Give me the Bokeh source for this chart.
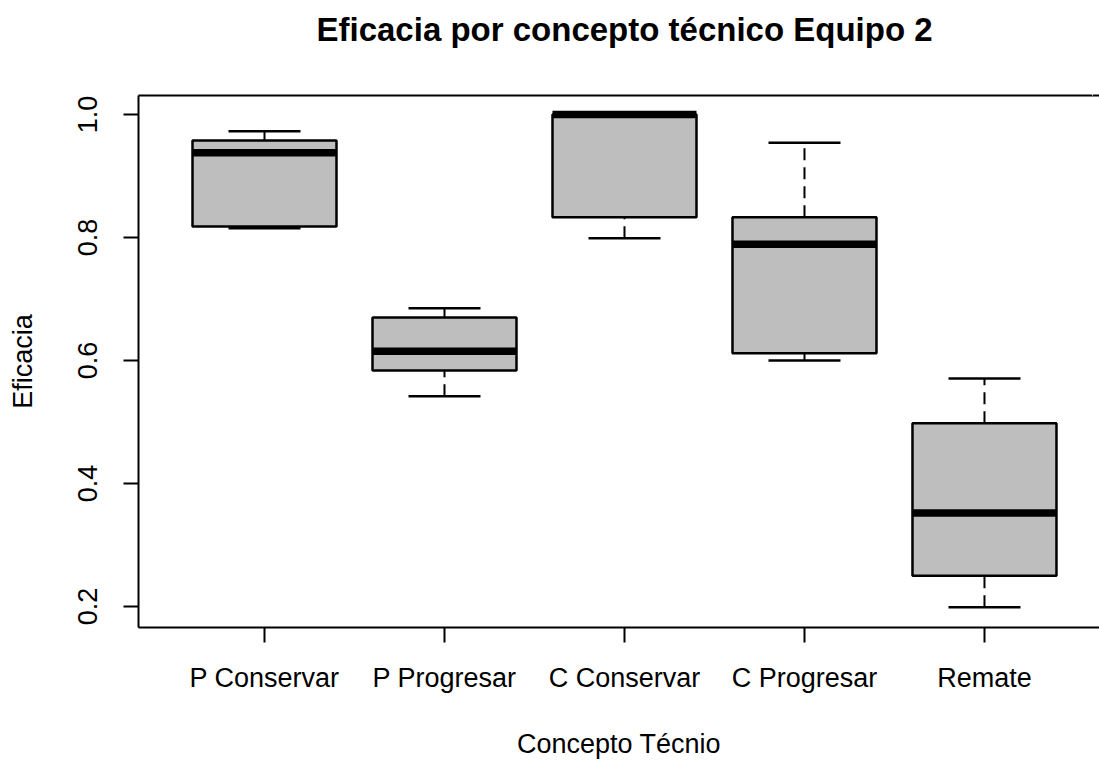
from bokeh.plotting import figure
from bokeh.models import Range1d, FixedTicker, LinearAxis, ColumnDataSource
from bokeh.embed import file_html
from bokeh.resources import INLINE

# ---- data ----
categories = ["P Conservar", "P Progresar", "C Conservar", "C Progresar", "Remate"]
lower_whisker = [0.815, 0.542, 0.799, 0.600, 0.199]
q1 = [0.818, 0.584, 0.833, 0.612, 0.250]
median = [0.938, 0.615, 1.000, 0.789, 0.352]
q3 = [0.958, 0.670, 1.000, 0.833, 0.498]
upper_whisker = [0.973, 0.685, 1.000, 0.954, 0.571]

y_ticks = [0.2, 0.4, 0.6, 0.8, 1.0]
y_tick_labels = ["0.2", "0.4", "0.6", "0.8", "1.0"]

title_text = "Eficacia por concepto técnico Equipo 2"
x_title = "Concepto Técnio"
y_title = "Eficacia"

# ---- layout / style ----
FONT = "Liberation Sans"
BOX_W = 0.8
CAP_W = 0.4
FILL = "#BEBEBE"
X_START, X_END = 0.3, 5.639

positions = list(range(1, len(categories) + 1))
src = ColumnDataSource(dict(
    x=positions, lw=lower_whisker, q1=q1, med=median, q3=q3, uw=upper_whisker,
    bl=[x - BOX_W / 2 for x in positions], br=[x + BOX_W / 2 for x in positions],
    cl=[x - CAP_W / 2 for x in positions], cr=[x + CAP_W / 2 for x in positions],
))

p = figure(width=1099, height=761, output_backend="svg", toolbar_location=None,
           x_range=Range1d(X_START, X_END), y_range=Range1d(0.166, 1.031),
           min_border_left=138, min_border_right=0, min_border_top=95,
           min_border_bottom=134, background_fill_color="white",
           border_fill_color="white", outline_line_color=None)

# whiskers (dashed), caps
p.segment(x0="x", y0="q3", x1="x", y1="uw", source=src, line_color="black",
          line_width=2, line_dash="12 7")
p.segment(x0="x", y0="lw", x1="x", y1="q1", source=src, line_color="black",
          line_width=2, line_dash="12 7")
p.segment(x0="cl", y0="uw", x1="cr", y1="uw", source=src, line_color="black", line_width=2.5)
p.segment(x0="cl", y0="lw", x1="cr", y1="lw", source=src, line_color="black", line_width=2.5)
# boxes
p.vbar(x="x", width=BOX_W, bottom="q1", top="q3", source=src, fill_color=FILL,
       line_color="black", line_width=2.5)
# medians
p.segment(x0="bl", y0="med", x1="br", y1="med", source=src, line_color="black",
          line_width=7.5, line_cap="butt")

p.xgrid.visible = False
p.ygrid.visible = False

# x axis
xa = p.xaxis[0]
xa.ticker = FixedTicker(ticks=positions)
xa.major_label_overrides = {pos: cat for pos, cat in zip(positions, categories)}
xa.axis_label = x_title
# y axis
ya = p.yaxis[0]
ya.ticker = FixedTicker(ticks=y_ticks)
ya.major_label_overrides = {t: l for t, l in zip(y_ticks, y_tick_labels)}
ya.major_label_orientation = "parallel"
ya.axis_label = y_title

for ax in (xa, ya):
    ax.axis_line_width = 2
    ax.axis_line_color = "black"
    ax.major_tick_line_width = 2
    ax.major_tick_line_color = "black"
    ax.major_tick_out = 15
    ax.major_tick_in = 0
    ax.minor_tick_line_color = None
    ax.major_label_text_font = FONT
    ax.major_label_text_font_size = "27px"
    ax.major_label_text_color = "black"
    ax.axis_label_text_font = FONT
    ax.axis_label_text_font_size = "27px"
    ax.axis_label_text_font_style = "normal"
    ax.axis_label_text_color = "black"

xa.major_label_standoff = 20
xa.axis_label_standoff = 33
ya.major_label_standoff = 26
ya.axis_label_standoff = 38

# top frame line; one invisible (white) tick in the empty top-right corner
# reserves the space between the title and the frame
spacer_tick = X_END - 0.04
top = LinearAxis(ticker=FixedTicker(ticks=[spacer_tick]),
                 major_label_overrides={spacer_tick: ""},
                 major_label_text_font_size="1px", major_label_standoff=0,
                 axis_line_width=2, axis_line_color="black", major_tick_out=45,
                 major_tick_in=0, major_tick_line_color="white", major_tick_line_width=1,
                 minor_tick_out=0, minor_tick_in=0, minor_tick_line_color=None)
p.add_layout(top, "above")

p.title.text = title_text
p.title.text_font = FONT
p.title.text_font_size = "33px"
p.title.text_font_style = "bold"
p.title.text_color = "black"
p.title.align = "left"
p.title.offset = 178
p.title.standoff = 6

open("out.html", "w").write(file_html(p, INLINE))
